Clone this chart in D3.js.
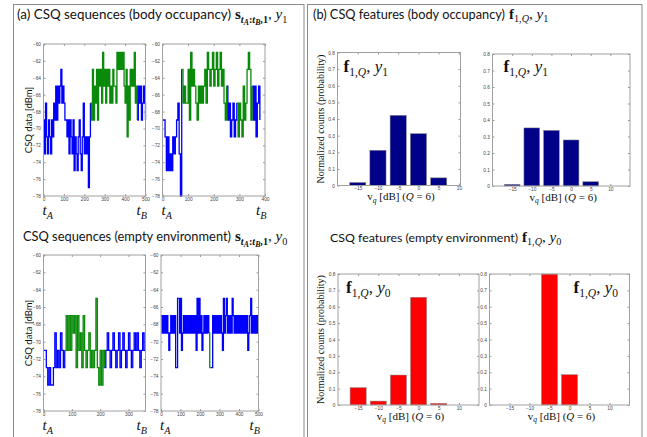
<!DOCTYPE html>
<html>
<head>
<meta charset="utf-8">
<script src="https://cdn.jsdelivr.net/npm/d3@7"></script>
<style>
  body { margin: 0; background: #fff; }
  svg { display: block; }
  .tick text { font-family: "Liberation Sans", Arial, sans-serif; font-size: 4.8px; fill: #444; }
  .tick line { stroke: #999; }
  .frame { fill: none; stroke: #8a8a8a; stroke-width: 1; }
  .box { fill: none; stroke: #a0a0a0; stroke-width: 1; }
  .sans { font-family: Lato, "Open Sans", sans-serif; fill: #111; }
  .serif { font-family: "Liberation Serif", "DejaVu Serif", serif; fill: #111; white-space: pre; }
</style>
</head>
<body>
<div id="figure"></div>
<script>

//DATA//

// CSQ samples, one value every seqStep time units (dBm)
const seqStep = 5;
const csqTicks = [-78, -76, -74, -72, -70, -68, -66, -64, -62, -60];
const timeTicks = [0, 100, 200, 300, 400, 500];

// body occupancy, first sequence (t = 0..500)
const occSeqA = [
  -69, -73, -67, -71, -73, -69, -71, -73, -69, -71,
  -67, -69, -65, -69, -65, -67, -65, -63, -67, -65,
  -67, -69, -69, -71, -69, -73, -69, -71, -73, -69,
  -75, -71, -73, -75, -71, -69, -73, -75, -71, -67,
  -73, -71, -73, -71, -77, -71, -67, -69, -63, -69,
  -65, -67, -63, -69, -63, -65, -63, -67, -61, -65,
  -63, -67, -63, -65, -63, -67, -65, -67, -63, -65,
  -65, -67, -61, -63, -61, -63, -61, -63, -61, -65,
  -67, -63, -71, -65, -69, -63, -65, -63, -65, -61,
  -67, -65, -69, -65, -67, -65, -69, -67, -65, -67,
  -69
];
const occSeqAGreen = [[230, 455]];

// body occupancy, second sequence (t = 0..380)
const occSeqB = [
  -69, -69, -71, -75, -71, -75, -73, -75, -71, -73,
  -71, -69, -67, -73, -78, -63, -67, -65, -67, -67,
  -63, -69, -61, -65, -63, -65, -67, -69, -65, -67,
  -65, -67, -65, -63, -67, -61, -63, -65, -63, -61,
  -65, -63, -61, -65, -63, -61, -65, -63, -67, -69,
  -65, -69, -67, -71, -69, -67, -71, -69, -67, -71,
  -67, -69, -71, -65, -69, -67, -63, -61, -63, -69,
  -65, -69, -65, -71, -67, -65, -69
];
const occSeqBGreen = [[75, 245], [290, 345]];

// empty environment, first sequence (t = 0..360)
const empSeqA = [
  -71, -71, -73, -75, -73, -75, -75, -73, -69, -73,
  -71, -73, -69, -71, -73, -71, -67, -71, -67, -71,
  -67, -69, -67, -73, -67, -71, -69, -73, -67, -71,
  -73, -71, -69, -73, -71, -73, -71, -65, -73, -75,
  -71, -75, -71, -73, -71, -69, -71, -73, -71, -69,
  -71, -73, -71, -69, -73, -71, -69, -71, -73, -71,
  -69, -71, -73, -71, -69, -71, -69, -71, -73, -71,
  -69, -71, -71
];
const empSeqAGreen = [[75, 210]];

// empty environment, second sequence (t = 0..500)
const empSeqB = [
  -67, -69, -67, -69, -67, -69, -67, -69, -71, -69,
  -67, -69, -67, -69, -67, -73, -73, -65, -65, -69,
  -65, -71, -69, -67, -69, -67, -69, -67, -69, -67,
  -69, -67, -69, -67, -69, -67, -71, -65, -69, -65,
  -69, -67, -71, -69, -67, -69, -67, -69, -67, -69,
  -73, -73, -73, -67, -69, -67, -69, -67, -69, -67,
  -69, -67, -69, -71, -65, -69, -67, -65, -69, -67,
  -69, -67, -69, -65, -67, -69, -67, -69, -67, -69,
  -67, -69, -67, -69, -67, -69, -67, -69, -67, -71,
  -69, -67, -65, -69, -67, -69, -67, -69, -67, -69,
  -69
];
const empSeqBGreen = [[245, 250]];

// CSQ features: normalized counts per quantization level
const vq = [-15, -10, -5, 0, 5, 10];
const probTicks = [0, 0.1, 0.2, 0.3, 0.4, 0.5, 0.6, 0.7, 0.8];
const vqTicks = [-15, -10, -5, 0, 5, 10];
const histOccA = [0.018, 0.212, 0.422, 0.312, 0.046, 0];
const histOccB = [0.010, 0.352, 0.337, 0.279, 0.026, 0];
const histEmpA = [0.106, 0.024, 0.183, 0.658, 0.010, 0];
const histEmpB = [0, 0, 0.81, 0.185, 0, 0];

//1. MAKE SVG CANVAS
const width = 647;
const height = 437;

const svg = d3.select("#figure")
    .append("svg")
    .attr("width", width)
    .attr("height", height);

svg.append("rect").attr("width", width).attr("height", height).attr("fill", "#fff");

// panel frames (open at the bottom)
svg.append("rect").attr("class", "frame")
    .attr("x", 13.5).attr("y", 4.5).attr("width", 290.5).attr("height", 450);
svg.append("rect").attr("class", "frame")
    .attr("x", 307.5).attr("y", 4.5).attr("width", 334.5).attr("height", 450);

//2. HELPERS

// text with sub / sub-sub levels, parts = [text, level, style]
function mathText(parent, x, y, parts, size, anchor) {
  const shift = [0, size * 0.26, size * 0.42];
  const scale = [1, 0.68, 0.52];
  const t = parent.append("text")
      .attr("class", "serif")
      .attr("x", x)
      .attr("y", y)
      .attr("text-anchor", anchor || "start");
  let level = 0;
  parts.forEach(function(p) {
    t.append("tspan")
        .attr("dy", shift[p[1]] - shift[level])
        .attr("font-size", size * scale[p[1]])
        .attr("font-weight", p[2].indexOf("b") >= 0 ? "bold" : "normal")
        .attr("font-style", p[2].indexOf("i") >= 0 ? "italic" : "normal")
        .text(p[0]);
    level = p[1];
  });
  return t;
}

function boxAxes(g, x, y, w, h, xTicks, yTicks, yFormat) {
  g.append("g")
      .attr("transform", `translate(0,${h})`)
      .call(d3.axisBottom(x).tickValues(xTicks).tickSizeInner(-2).tickSizeOuter(0).tickPadding(1.5));
  g.append("g")
      .call(d3.axisTop(x).tickValues(xTicks).tickFormat("").tickSizeInner(-2).tickSizeOuter(0));
  g.append("g")
      .call(d3.axisLeft(y).tickValues(yTicks).tickFormat(yFormat).tickSizeInner(-2).tickSizeOuter(0).tickPadding(2.5));
  g.append("g")
      .attr("transform", `translate(${w},0)`)
      .call(d3.axisRight(y).tickValues(yTicks).tickFormat("").tickSizeInner(-2).tickSizeOuter(0));
  g.selectAll(".domain").remove();
}

//3. CSQ SEQUENCE PLOTS
function drawSequence(box, values, greenRanges, tMax) {
  const g = svg.append("g").attr("transform", `translate(${box.x},${box.y})`);

  const xScale = d3.scaleLinear().domain([0, tMax]).range([0, box.w]);
  const yScale = d3.scaleLinear().domain([-78, -60]).range([box.h, 0]);

  boxAxes(g, xScale, yScale, box.w, box.h,
      timeTicks.filter(function(t) { return t <= tMax; }), csqTicks, d3.format("d"));

  const pts = values.map(function(v, i) { return {t: i * seqStep, v: v}; });
  function isGreen(t) {
    return greenRanges.some(function(r) { return t >= r[0] && t <= r[1]; });
  }

  // split into runs of the same colour
  const runs = [];
  pts.forEach(function(d, i) {
    const green = isGreen(d.t);
    if (runs.length && runs[runs.length - 1].green === green) runs[runs.length - 1].end = i;
    else runs.push({start: i, end: i, green: green});
  });

  const line = d3.line()
      .x(function(d) { return xScale(d.t); })
      .y(function(d) { return yScale(d.v); })
      .curve(d3.curveStepAfter);

  runs.forEach(function(r) {
    g.append("path")
        .datum(pts.slice(r.start, r.end + 2))
        .attr("d", line)
        .style("fill", "none")
        .style("stroke", r.green ? "#0a8a0a" : "#0000ff")
        .style("stroke-width", 1.3);
  });

  g.append("rect").attr("class", "box").attr("width", box.w).attr("height", box.h);

  // t_A / t_B under the axis ends
  mathText(g, -1, box.h + 19, [["t", 0, "i"], ["A", 1, "i"]], 15, "start");
  mathText(g, box.w - 9, box.h + 19, [["t", 0, "i"], ["B", 1, "i"]], 15, "start");
  return g;
}

function yLabelCsq(box) {
  svg.append("text")
      .attr("class", "sans")
      .attr("transform", `translate(${box.x - 12},${box.y + box.h / 2}) rotate(-90)`)
      .attr("text-anchor", "middle")
      .attr("font-size", 9.5)
      .text("CSQ data [dBm]");
}

const seqOccA = {x: 43.5, y: 44, w: 102, h: 152};
const seqOccB = {x: 162.5, y: 44, w: 102.5, h: 152};
const seqEmpA = {x: 43.5, y: 255, w: 102, h: 156};
const seqEmpB = {x: 161, y: 255, w: 97.5, h: 156};

drawSequence(seqOccA, occSeqA, occSeqAGreen, 500);
drawSequence(seqOccB, occSeqB, occSeqBGreen, 400);
drawSequence(seqEmpA, empSeqA, empSeqAGreen, 360);
drawSequence(seqEmpB, empSeqB, empSeqBGreen, 500);
yLabelCsq(seqOccA);
yLabelCsq(seqEmpA);

//4. CSQ FEATURE HISTOGRAMS
function drawHistogram(box, counts, colour, xMax, tag, tagX, tagY) {
  const g = svg.append("g").attr("transform", `translate(${box.x},${box.y})`);

  const xScale = d3.scaleLinear().domain([-20, xMax]).range([0, box.w]);
  const yScale = d3.scaleLinear().domain([0, 0.8]).range([box.h, 0]);

  boxAxes(g, xScale, yScale, box.w, box.h, vqTicks, probTicks,
      function(d) { return d === 0 ? "0" : d3.format(".1f")(d); });

  g.selectAll(".bar")
      .data(vq.map(function(v, i) { return {v: v, p: counts[i]}; }))
      .enter()
      .append("rect")
        .attr("class", "bar")
        .attr("x", function(d) { return xScale(d.v - 2); })
        .attr("width", function(d) { return xScale(d.v + 2) - xScale(d.v - 2); })
        .attr("y", function(d) { return yScale(Math.min(d.p, 0.8)); })
        .attr("height", function(d) { return box.h - yScale(Math.min(d.p, 0.8)); })
        .style("fill", colour)
        .style("stroke", "#8a8a8a")
        .style("stroke-width", 0.5);

  g.append("rect").attr("class", "box").attr("width", box.w).attr("height", box.h);

  mathText(g, tagX, tagY,
      [["f", 0, "b"], ["1,", 1, ""], ["Q", 1, "i"], [", ", 0, ""], ["y", 0, "i"], [tag, 1, ""]], 17, "start");

  mathText(g, box.w / 2 + 2, box.h + 14.5,
      [["v", 0, ""], ["q", 1, "i"], [" [dB] (", 0, ""], ["Q", 0, "i"], [" = 6)", 0, ""]], 11, "middle");
  return g;
}

function yLabelProb(box) {
  svg.append("text")
      .attr("class", "serif")
      .attr("transform", `translate(${box.x - 14},${box.y + box.h / 2}) rotate(-90)`)
      .attr("text-anchor", "middle")
      .attr("font-size", 10)
      .text("Normalized counts (probability)");
}

const histOccABox = {x: 337.5, y: 52.5, w: 123, h: 133};
const histOccBBox = {x: 492.5, y: 54, w: 137.5, h: 132};
const histEmpABox = {x: 338, y: 274, w: 141, h: 131};
const histEmpBBox = {x: 489.5, y: 274, w: 140, h: 131};

drawHistogram(histOccABox, histOccA, "#000088", 10.4, "1", 6, 19);
drawHistogram(histOccBBox, histOccB, "#000088", 15, "1", 11, 18);
drawHistogram(histEmpABox, histEmpA, "#ff0000", 15, "0", 8, 19);
drawHistogram(histEmpBBox, histEmpB, "#ff0000", 15, "0", 84, 19);
yLabelProb(histOccABox);
yLabelProb(histEmpABox);

//5. PANEL TITLES
function title(x, y, label, len, size, math) {
  svg.append("text")
      .attr("class", "sans")
      .attr("x", x)
      .attr("y", y)
      .attr("font-size", size)
      .attr("textLength", len)
      .attr("lengthAdjust", "spacingAndGlyphs")
      .text(label);
  mathText(svg, x + len + 4, y, math, 15, "start");
}

const seqMath = function(tag) {
  return [["s", 0, "b"], ["t", 1, "bi"], ["A", 2, "bi"], [":", 1, "b"], ["t", 1, "bi"], ["B", 2, "bi"],
          [",1", 1, "b"], [", ", 0, ""], ["y", 0, "i"], [tag, 1, ""]];
};
const featMath = function(tag) {
  return [["f", 0, "b"], ["1,", 1, ""], ["Q", 1, "i"], [", ", 0, ""], ["y", 0, "i"], [tag, 1, ""]];
};

title(17, 19, "(a) CSQ sequences (body occupancy)", 214, 12.8, seqMath("1"));
title(23, 241, "CSQ sequences (empty environment)", 208, 12.8, seqMath("0"));
title(313, 18.5, "(b) CSQ features (body occupancy)", 192, 12.8, featMath("1"));
title(330, 241.5, "CSQ features (empty environment)", 188, 12.2, featMath("0"));

</script>
</body>
</html>
